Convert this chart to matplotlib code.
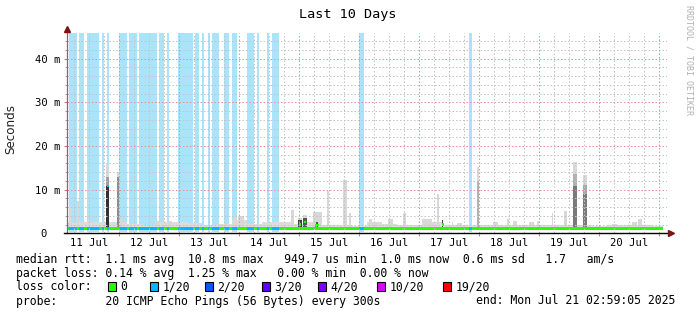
import numpy as np
import matplotlib
matplotlib.use('Agg')
import matplotlib.pyplot as plt
import matplotlib.dates as mdates
from matplotlib.patches import Rectangle
from datetime import datetime

W, H = 697, 315
MONO = 'DejaVu Sans Mono'

# graph window, times given in hours after the start
t_start = datetime(2025, 7, 11, 2, 59, 5)
span_h = 240
data_end_h = 238.7

# periods with 1/20 packets lost
loss_start_h = [0.9, 4.9, 8.3, 14.2, 16.2, 20.9, 24.9, 28.9, 36.9, 40.1, 44.6, 51.4,
                54.2, 56.4, 58.1, 62.9, 66.1, 72.1, 76.2, 80.2, 82.1, 116.9, 160.9]
loss_end_h = [4.1, 6.9, 12.9, 14.9, 16.9, 24.0, 28.1, 36.1, 38.9, 40.9, 50.6, 52.8,
              55.0, 57.2, 60.9, 65.0, 68.2, 74.9, 77.0, 81.0, 84.9, 118.9, 162.1]

# median rtt (ms)
median_ms = 1.1
median_bump_h = [16.0, 92.8, 95.0, 99.2, 100.0, 150.0]
median_bump_ms = [10.8, 2.0, 2.6, 1.8, 1.9, 2.0]

# light smoke level per 6 hour block (ms)
smoke_floor_ms = [2.5, 2.5, 2.6, 2.5, 2.2, 2.0, 2.6, 2.5, 2.4, 2.0,
                  2.2, 3.0, 2.2, 2.6, 2.5, 2.2, 2.5, 2.0, 1.8, 1.7,
                  2.5, 2.2, 2.0, 2.0, 2.7, 2.0, 1.8, 1.8, 2.0, 2.0,
                  1.8, 2.0, 2.0, 2.0, 1.8, 1.7, 1.9, 1.8, 2.0, 1.7]

# smoke spikes (outer pings)
spike_start_h = [0.9, 4.0, 8.5, 15.6, 20.0, 21.3, 35.3, 40.5, 66.5, 68.5, 89.9, 92.5,
                 94.5, 98.5, 104.1, 110.5, 112.9, 121.0, 122.5, 128.5, 134.5, 142.1,
                 148.1, 150.1, 154.1, 156.1, 164.1, 170.5, 176.1, 178.5, 184.9, 188.1,
                 194.1, 198.9, 202.5, 206.5, 218.1, 226.1, 228.5]
spike_end_h = [2.1, 4.9, 9.3, 16.9, 20.9, 22.5, 37.3, 42.1, 68.1, 70.9, 91.1, 94.1,
               96.1, 102.1, 104.9, 112.1, 113.7, 122.1, 124.5, 130.5, 135.7, 146.1,
               148.9, 150.5, 154.5, 158.1, 164.9, 172.5, 176.9, 180.1, 186.9, 188.9,
               194.5, 200.1, 204.1, 208.1, 220.1, 228.1, 230.1]
spike_top_ms = [6.1, 7.5, 3.6, 15.6, 14.0, 3.5, 2.8, 2.8, 3.7, 4.0, 5.4, 3.5,
                4.2, 4.8, 9.8, 12.2, 4.7, 3.3, 2.6, 3.3, 4.7, 3.3,
                9.0, 3.0, 2.5, 2.3, 15.2, 2.7, 3.2, 2.8, 2.6, 2.8,
                4.7, 5.2, 16.3, 13.3, 2.2, 2.5, 3.3]

# denser smoke (pings clustered, out of 20)
core_start_h = [15.6, 15.6, 20.0, 92.5, 94.5, 99.7, 150.1, 164.1, 202.5, 202.5, 206.5, 206.5]
core_end_h = [16.9, 16.9, 20.9, 94.1, 96.1, 100.5, 150.5, 164.9, 204.1, 204.1, 208.1, 208.1]
core_ms = [13.0, 10.8, 13.0, 3.0, 3.5, 2.5, 3.0, 12.0, 13.6, 10.8, 11.0, 9.0]
core_pings = [6, 18, 8, 16, 14, 14, 16, 4, 4, 10, 5, 10]

# legend
loss_labels = ['0', '1/20', '2/20', '3/20', '4/20', '10/20', '19/20']
loss_colors = ['#26ff00', '#00b8ff', '#0059ff', '#5e00ff', '#7e00ff', '#dd00ff', '#ff0000']
legend_lines = [
    'median rtt:  1.1 ms avg  10.8 ms max   949.7 us min  1.0 ms now  0.6 ms sd   1.7   am/s',
    'packet loss: 0.14 % avg  1.25 % max   0.00 % min  0.00 % now',
    'loss color:',
    'probe:       20 ICMP Echo Pings (56 Bytes) every 300s',
]
end_text = 'end: Mon Jul 21 02:59:05 2025'

x0 = mdates.date2num(t_start)


def hx(h):
    return x0 + np.asarray(h, dtype=float) / 24.0


def fx(px, py):
    return px / W, 1 - py / H


fig = plt.figure(figsize=(W / 100, H / 100), dpi=100)
ax = fig.add_axes([66.7 / W, (H - 233.3) / H, 600 / W, 200.6 / H])
ytop = 200.6 / 4.365
ax.set_xlim(x0, x0 + span_h / 24)
ax.set_ylim(0, ytop)
for s in ax.spines.values():
    s.set_visible(False)

ls = np.array(loss_start_h)
le = np.array(loss_end_h)

# loss background
ax.bar(hx(ls), height=ytop - 0.4, bottom=0.4, width=(le - ls) / 24, align='edge',
       color='#aae4fa', linewidth=0, zorder=1)

# light smoke
fs = np.arange(len(smoke_floor_ms)) * 6.0
fe = np.minimum(fs + 6.0, data_end_h)
ax.bar(hx(fs), height=np.array(smoke_floor_ms) - 0.8, bottom=0.8, width=(fe - fs) / 24,
       align='edge', color='#dcdcdc', linewidth=0, zorder=2)
ss = np.array(spike_start_h)
se = np.array(spike_end_h)
ax.bar(hx(ss), height=np.array(spike_top_ms) - 0.8, bottom=0.8, width=(se - ss) / 24,
       align='edge', color='#d8d8d8', linewidth=0, zorder=2)

# dense smoke
for a, b, top, n in sorted(zip(core_start_h, core_end_h, core_ms, core_pings), key=lambda r: r[3]):
    g = 0.84 - 0.72 * n / 20
    ax.bar(hx(a), height=top - 0.8, bottom=0.8, width=(b - a) / 24, align='edge',
           color=str(g), linewidth=0, zorder=3)

# median band coloured by loss
half = 0.27
ax.broken_barh([(x0, data_end_h / 24)], (median_ms - half, 2 * half),
               facecolor=loss_colors[0], zorder=4)
ax.broken_barh([(hx(a), (b - a) / 24) for a, b in zip(ls, le)], (median_ms - half, 2 * half),
               facecolor=loss_colors[1], zorder=4)
for h, m in zip(median_bump_h, median_bump_ms):
    lossy = any(a <= h + 0.4 <= b for a, b in zip(ls, le))
    ax.broken_barh([(hx(h), 0.9 / 24)], (m - half, 2 * half),
                   facecolor=loss_colors[1] if lossy else loss_colors[0], zorder=4)

# grid
dots = (0, (1.5, 2))
for y in np.arange(2, ytop, 2):
    major = y % 10 == 0
    ax.axhline(y, color='#e89393' if major else '#c4c4c4', lw=0.72, ls=dots, zorder=5)
for x in np.arange(np.ceil(x0 * 4) / 4, x0 + span_h / 24 + 0.02, 0.25):
    major = abs(x - round(x)) < 1e-6
    ax.axvline(x, color='#e89393' if major else '#c4c4c4', lw=0.72, ls=dots, zorder=5)

# axes lines with arrows
px_x = 1 / 60.0
px_y = 1 / 4.365
ax.plot([x0, x0], [0, ytop + 3 * px_y], color='#707070', lw=0.9, clip_on=False, zorder=6)
ax.plot([x0], [ytop + 4 * px_y], marker='^', ms=4.2, color='#7a1414', clip_on=False, zorder=7)
ax.plot([x0 - 3 * px_x, x0 + 10 + 2 * px_x], [0, 0], color='black', lw=1.0,
        clip_on=False, zorder=6)
ax.plot([x0 + 10 + 4.5 * px_x], [0], marker='>', ms=4.2, color='#7a1414',
        clip_on=False, zorder=7)

# ticks
ax.xaxis.set_major_locator(mdates.HourLocator(byhour=12))
ax.xaxis.set_major_formatter(mdates.DateFormatter('%d %b'))
ax.xaxis.set_minor_locator(mdates.DayLocator())
ax.tick_params(axis='x', which='major', length=0, pad=3.2)
ax.tick_params(axis='x', which='minor', length=2.0, color='#e08080', width=0.8)
yt = np.arange(0, 41, 10)
ax.set_yticks(yt)
ax.set_yticklabels([f'{v:g} m' if v else '0  ' for v in yt])
ax.set_yticks(np.arange(2, ytop, 2), minor=True)
ax.tick_params(axis='y', which='major', length=2.2, color='#d07070', width=0.8, pad=2.6)
ax.tick_params(axis='y', which='minor', length=1.8, color='#a0a0a0', width=0.7)
for lab in ax.get_xticklabels() + ax.get_yticklabels():
    lab.set_fontfamily(MONO)
    lab.set_fontsize(7.6)

# texts
fig.text(*fx(348, 18), 'Last 10 Days', ha='center', va='baseline', family=MONO, size=9.7)
fig.text(*fx(11, 129), 'Seconds', rotation=90, ha='center', va='center',
         family='DejaVu Sans', size=8.6, color='#222222')
fig.text(*fx(688.5, 5), 'RRDTOOL / TOBI OETIKER', rotation=270, ha='center', va='top',
         family=MONO, size=6.0, color='#b0b0b0')

for i, line in enumerate(legend_lines):
    fig.text(*fx(16.5, 262.5 + 14 * i), line, ha='left', va='baseline', family=MONO, size=8.3)
fig.text(*fx(476.5, 304.5), end_text, ha='left', va='baseline', family=MONO, size=8.3)

box_x = [108, 150, 205, 262, 318, 377, 443]
for bx, lab, col in zip(box_x, loss_labels, loss_colors):
    fig.add_artist(Rectangle(fx(bx, 290.7), 8.3 / W, 8.4 / H, transform=fig.transFigure,
                             facecolor=col, edgecolor='black', lw=0.8))
    fig.text(*fx(bx + 12.5, 290.5), lab, ha='left', va='baseline', family=MONO, size=8.3)

fig.savefig('out.png', dpi=100)
